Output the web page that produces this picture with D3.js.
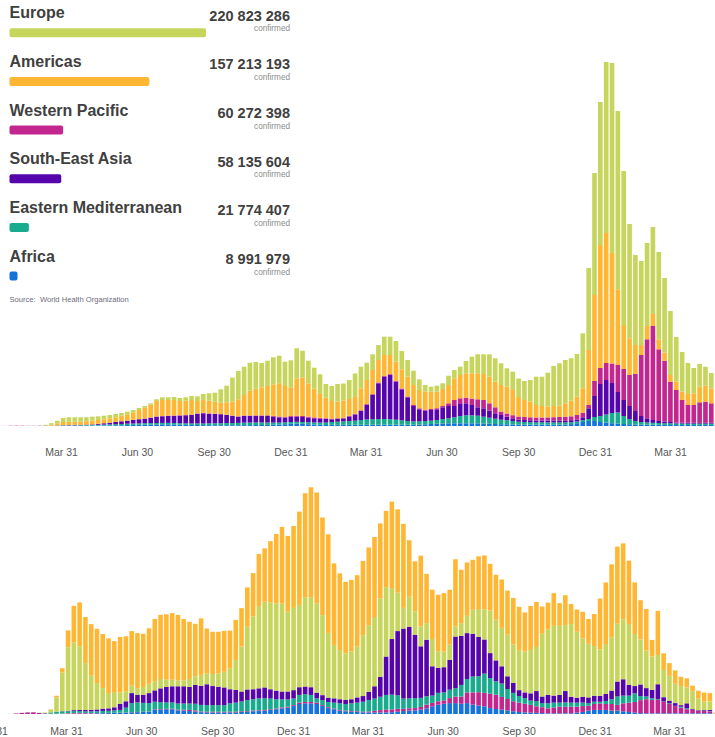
<!DOCTYPE html>
<html><head><meta charset="utf-8">
<script src="https://cdn.jsdelivr.net/npm/d3@7"></script>
<style>
html,body{margin:0;padding:0;background:#fff;}
svg{display:block;font-family:"Liberation Sans",Arial,Helvetica,sans-serif;}
</style></head><body>
<svg id="chart" width="715" height="737"></svg>
<script>
// ---------------- DATA ----------------
const regions = ["Europe","Americas","Western Pacific","South-East Asia","Eastern Mediterranean","Africa"];
const confirmedTotals = [220823286,157213193,60272398,58135604,21774407,8991979];
const regionColors = ["#c6d55b","#ffb733","#c3268e","#5604ab","#18ab8d","#1673da"];
const sourceNote = "Source:  World Health Organization";

const firstWeek = "2019-12-30";   // Monday of the first weekly bar
const topTickDates = ["2020-03-31","2020-06-30","2020-09-30","2020-12-31",
                      "2021-03-31","2021-06-30","2021-09-30","2021-12-31","2022-03-31"];
const bottomTickDates = ["2019-12-31","2020-03-31","2020-06-30","2020-09-30","2020-12-31",
                      "2021-03-31","2021-06-30","2021-09-30","2021-12-31","2022-03-31"];

// weekly confirmed cases (thousands)
const casesAfrica = [0,0,0,0,0,0,0,0,0,0, 0,1,6,10,10,12,15,18,20,24, 30,36,42,48,60,66,72,84,90,96,
 102,102,96,84,72,66,60,54,54,48, 48,48,48,48,54,54,60,60,66,78, 90,108,132,144,132,108,90,72,60,72,
 72,72,72,78,78,78,78,78,78,78, 78,78,78,78,90,102,120,132,150,162, 162,162,162,162,162,150,138,120,108,102,
 90,90,84,84,84,84,78,78,84,90, 114,168,240,300,300,240,198,168,144,120, 108,96,90,84,78,72,66,60,60,60,
 60,60,66,66,66,10];
const casesEasternMed = [0,0,0,0,0,0,0,0,1,5, 8,10,18,24,26,30,33,36,40,48, 54,60,66,72,78,84,84,84,84,84,
 84,84,84,84,84,84,90,96,102,114, 120,126,132,138,144,150,150,150,138,126, 114,108,108,108,108,114,120,132,144,168,
 186,204,228,240,282,312,330,342,342,330, 300,258,222,198,186,198,198,228,270,300, 360,438,480,480,456,408,360,318,270,240,
 210,168,156,144,138,138,138,138,132,126, 114,102,108,120,240,360,492,612,666,480, 312,204,150,126,114,108,102,102,90,84,
 78,78,72,72,72,10];
const casesSEAsia = [0,0,0,0,0,0,0,0,0,0, 0,2,3,8,12,15,20,24,30,48, 78,102,132,162,180,210,246,270,324,378,
 396,414,420,450,486,510,588,612,582,558, 534,486,420,372,402,396,390,390,396,354, 318,282,300,306,300,276,252,234,216,162,
 162,174,270,372,540,870,1452,2142,2538,2652, 2280,1866,1422,924,726,618,642,642,702,738, 678,762,720,618,504,504,420,324,282,216,
 162,132,120,114,108,108,114,114,114,120, 120,120,174,642,1260,1920,2070,1800,1230,960, 780,600,360,252,168,120,102,78,60,54,
 54,54,54,54,54,10];
const casesWPacific = [0,0,1,5,15,20,18,12,10,12, 10,10,9,12,12,10,8,6,6,6, 6,6,6,6,6,12,12,12,12,18,
 18,24,30,30,24,24,18,18,18,18, 18,18,24,24,30,30,36,36,42,48, 48,48,54,60,60,60,54,48,42,42,
 42,42,42,42,42,48,48,48,48,48, 48,48,48,60,60,60,60,66,78,162, 360,300,336,378,480,498,444,360,198,192,
 186,180,180,180,180,180,186,198,210,222, 234,270,276,198,900,960,1020,1170,1620,1860, 1860,2220,3660,4740,5640,4302,3648,2418,1950,1362,
 1068,1068,1230,1266,1170,150];
const casesAmericas = [0,0,0,0,0,0,0,0,0,1, 6,60,126,186,198,192,186,204,222,234, 234,258,276,330,378,450,546,672,768,924,
 960,936,930,852,852,876,744,780,762,720, 678,744,834,1020,1230,1488,1602,1686,1758,1896, 1992,1854,1728,2244,2298,2004,1722,1434,1236,1056,
 1008,1038,1008,1008,1320,1452,1452,1350,1254,1152, 1152,1152,1188,1200,1098,1080,1038,990,1020,1098, 1302,1398,1464,1524,1560,1560,1596,1536,1602,1608,
 1512,1170,1020,948,750,690,654,672,678,804, 936,1098,1464,3300,5160,7380,7800,6630,4542,2640, 2202,1740,600,798,720,600,480,402,498,498,
 660,702,936,960,900,100];
const casesEurope = [0,0,0,0,0,0,0,0,2,10, 45,84,156,240,264,264,264,240,240,222, 216,198,198,162,156,138,120,78,84,102,
 162,162,180,180,204,240,282,360,444,540, 804,996,1440,1698,1698,1680,1602,1458,1518,1620, 1656,1458,1620,1800,1620,1356,1260,1182,822,900,
 1050,1020,1140,1410,1296,1038,942,900,1098,1098, 1242,1098,1002,858,642,402,300,360,342,558, 498,498,738,996,1140,1182,1344,1404,1302,1104,
 1098,1110,1140,1290,1698,1758,2028,2400,2544,2598, 2544,2562,3300,4920,7320,8580,10260,11400,10698,9240, 6858,5400,5040,4980,5220,5238,4482,3840,2682,2382,
 1860,1518,1362,1140,918,100];

// weekly deaths
const deathsAfrica = [0,0,0,0,0,0,0,0,0,0, 0,10,30,60,100,150,200,250,300,350, 400,450,500,600,750,800,900,1000,1900,2000,
 2100,2100,1600,1500,1300,1100,800,700,700,700, 700,700,700,900,1000,1200,1300,1500,1800,2100, 2500,2800,3500,4400,4700,4700,4400,3500,2600,2100,
 1500,1200,1000,900,700,700,700,700,700,800, 1000,1300,1500,1600,1900,2500,3400,4100,4500,4800, 4800,4500,4800,4100,3700,3400,2600,2200,1900,1600,
 1200,900,700,600,500,400,300,300,300,300, 300,600,900,1500,1800,1800,1800,1500,1500,1200, 900,600,400,300,300,300,300,300,300,300,
 300,300,300,300,300,20];
const deathsWPacific = [0,1,5,40,250,500,700,750,450,250, 150,100,150,250,300,350,250,200,150,100, 100,100,100,100,100,100,100,100,200,200,
 200,250,300,400,500,500,300,300,300,300, 300,300,300,300,300,300,300,300,300,300, 400,400,400,600,600,600,600,400,400,300,
 300,300,300,300,300,400,700,1000,1200,1200, 1300,1000,1000,1000,1200,1600,1500,1500,1500,2200, 2900,3200,4700,5400,5900,5900,6300,6300,5600,5000,
 4400,4100,3800,3400,2900,2600,2200,2600,2900,2900, 2900,2600,2600,2100,2600,2900,2600,2900,2500,3500, 4100,4700,5700,6200,5900,5900,5100,4100,3200,2500,
 1800,1500,1200,1000,900,100];
const deathsEasternMed = [0,0,0,0,0,0,0,0,40,200, 550,900,1000,900,900,800,700,700,750,900, 900,1000,1200,2100,3950,4200,3900,3700,3300,3000,
 2800,2700,2700,2700,2800,2900,2900,2900,2900,2900, 2900,3700,4000,4300,4800,5000,5300,5100,4700,4100, 3500,3200,2900,3400,3400,3100,1900,2200,2300,2600,
 2900,2900,3400,3800,4400,5000,5400,5900,6500,6500, 5900,4500,4400,4400,4000,3700,3200,3700,3500,3700, 3700,5100,5900,7000,7000,8500,6900,5900,5900,4400,
 3700,2900,2500,1900,2300,1800,2200,2100,1800,1900, 1800,1800,1500,1200,1000,700,1300,2100,3700,3400, 3100,3800,1800,1200,700,300,100,300,100,400,
 400,100,100,150,150,20];
const deathsSEAsia = [0,0,0,0,0,0,0,0,0,0, 5,20,80,200,400,500,600,700,800,1000, 1100,1400,2700,2800,4400,3400,3600,4400,5000,6100,
 6800,7150,7600,7600,7300,8300,8400,9200,8400,8100, 7800,6200,5600,4400,4700,4400,4400,4800,4100,3800, 3500,3500,3700,3400,3400,3400,2500,2200,1900,1900,
 1800,1800,1800,2300,2500,3700,5400,8800,16900,24500, 28300,30800,31500,27900,22700,24900,12900,11000,11100,13200, 22700,21600,20200,18800,17300,15000,11000,9200,7600,5600,
 4400,2600,2500,3200,4400,2900,3700,3100,3400,5000, 2600,2200,2600,2500,2600,2600,3100,3800,6600,7200, 4700,3200,5100,3700,3700,6600,1900,1200,1200,700,
 2200,300,150,300,450,20];
const deathsEurope = [0,0,0,0,0,0,0,0,30,200, 1300,6200,17000,28000,29800,28000,20650,15000,11600,9050, 6700,6700,5000,4400,3300,2900,3400,4100,4000,4100,
 3200,2900,2600,2600,3500,3800,4800,4700,5300,5900, 6900,9200,13200,19800,27600,32000,36200,37700,38100,38400, 38700,35100,36200,36200,39300,39600,39300,35200,28500,23500,
 21700,20500,21000,22300,26800,29300,30500,34500,30500,22400, 16900,9100,13200,10300,8800,7300,12000,7300,6900,6600, 4400,5600,7600,10600,12300,13200,18800,17900,16900,18300,
 16900,17600,18000,19100,19400,27600,28900,30700,30400,29000, 32000,29000,25700,23600,21900,20400,22000,23500,25400,26400, 26800,22900,19800,16600,14700,12900,12000,10900,8500,8400,
 7000,7800,5100,3700,3700,200];
const deathsAmericas = [0,0,0,0,0,0,0,0,0,10, 100,800,1900,7400,16100,19300,20300,22700,23900,23800, 24100,22450,24400,24200,24000,24200,23400,24400,27400,28300,
 28800,29300,28800,27000,25200,23100,24900,19800,18600,18300, 18000,16600,17600,16900,17300,19100,22900,23500,27100,30500, 33700,33400,36100,41100,45800,48400,48800,43000,43400,35900,
 33700,31500,31500,31500,32700,34200,35200,33000,33600,38100, 36700,37000,24900,22000,31100,21700,21700,24900,25700,24200, 29600,23500,23500,22000,23200,23800,20500,19800,21300,19400,
 20500,19100,17200,19400,19800,12000,11700,14400,10000,13200, 8800,9800,11700,10900,14100,22400,27100,32100,34000,33400, 27900,22700,17300,18200,7300,19400,7300,5600,5900,4100,
 4000,2500,3400,4000,3700,200];

// ---------------- BUILD ----------------
const svg = d3.select("#chart");
const parse = d3.timeParse("%Y-%m-%d");
const start = parse(firstWeek);
const weeks = casesEurope.map((_, i) => d3.timeDay.offset(start, 7 * i));
const colorOf = d3.scaleOrdinal().domain(regions).range(regionColors);

const caseSeries = {"Africa": casesAfrica, "Eastern Mediterranean": casesEasternMed, "South-East Asia": casesSEAsia,
  "Western Pacific": casesWPacific, "Americas": casesAmericas, "Europe": casesEurope};
const deathSeries = {"Africa": deathsAfrica, "Western Pacific": deathsWPacific, "Eastern Mediterranean": deathsEasternMed,
  "South-East Asia": deathsSEAsia, "Europe": deathsEurope, "Americas": deathsAmericas};

function panel(series, keys, tickList, xRange, yDomainMax, yRange, axisY) {
  const x = d3.scaleTime().domain([parse("2020-03-31"), parse("2022-03-31")]).range(xRange);
  const y = d3.scaleLinear().domain([0, yDomainMax]).range(yRange);
  const rows = weeks.map((d, i) => {
    const r = {date: d};
    keys.forEach(k => r[k] = series[k][i]);
    return r;
  });
  const stacked = d3.stack().keys(keys)(rows);
  const g = svg.append("g");
  g.selectAll("g.layer").data(stacked).join("g").attr("class", "layer")
    .attr("fill", s => colorOf(s.key))
    .selectAll("rect").data(s => s).join("rect")
    .attr("x", d => x(d.data.date) + 0.6)
    .attr("width", d => Math.max(0, x(d3.timeDay.offset(d.data.date, 7)) - x(d.data.date) - 1.2))
    .attr("y", d => y(d[1]))
    .attr("height", d => Math.max(0, y(d[0]) - y(d[1])));
  const axis = d3.axisBottom(x).tickValues(tickList.map(parse)).tickFormat(d3.timeFormat("%b %d"))
    .tickSize(0).tickPadding(0);
  const ag = svg.append("g").attr("transform", `translate(0,${axisY})`).call(axis);
  ag.select(".domain").remove();
  ag.selectAll("text").attr("font-size", 10.5).attr("fill", "#585858")
    .attr("font-family", '"Liberation Sans",Arial,sans-serif');
}

// top: confirmed cases
panel(caseSeries, ["Africa","Eastern Mediterranean","South-East Asia","Western Pacific","Americas","Europe"],
      topTickDates, [61, 670], 22500, [426, 51], 448.6);
// bottom: deaths
panel(deathSeries, ["Africa","Western Pacific","Eastern Mediterranean","South-East Asia","Europe","Americas"],
      bottomTickDates, [66, 669], 103000, [714, 480], 727.6);

// legend
const fmtTotal = v => d3.format(",")(v).replace(/,/g, " ");
const barW = d3.scaleLinear().domain([0, d3.max(confirmedTotals)]).range([0, 196.5]);
const lg = svg.append("g");
const step = 48.65;
regions.forEach((name, k) => {
  const y0 = k * step;
  lg.append("text").attr("x", 9.5).attr("y", 18.4 + y0).attr("font-size", 16).attr("font-weight", "bold")
    .attr("fill", "#404040").text(name);
  lg.append("rect").attr("x", 9.5).attr("y", 28.3 + y0).attr("width", barW(confirmedTotals[k]))
    .attr("height", 9).attr("rx", 2).attr("fill", colorOf(name));
  lg.append("text").attr("x", 290).attr("y", 20.6 + y0).attr("text-anchor", "end").attr("font-size", 14.5)
    .attr("font-weight", "bold").attr("fill", "#404040").text(fmtTotal(confirmedTotals[k]));
  lg.append("text").attr("x", 290).attr("y", 31.4 + y0).attr("text-anchor", "end").attr("font-size", 8.2)
    .attr("fill", "#8c8c8c").text("confirmed");
});
lg.append("text").attr("x", 9.5).attr("y", 302).attr("font-size", 7.6).attr("fill", "#6b6b7b")
  .style("white-space", "pre").text(sourceNote);
</script>
</body></html>
